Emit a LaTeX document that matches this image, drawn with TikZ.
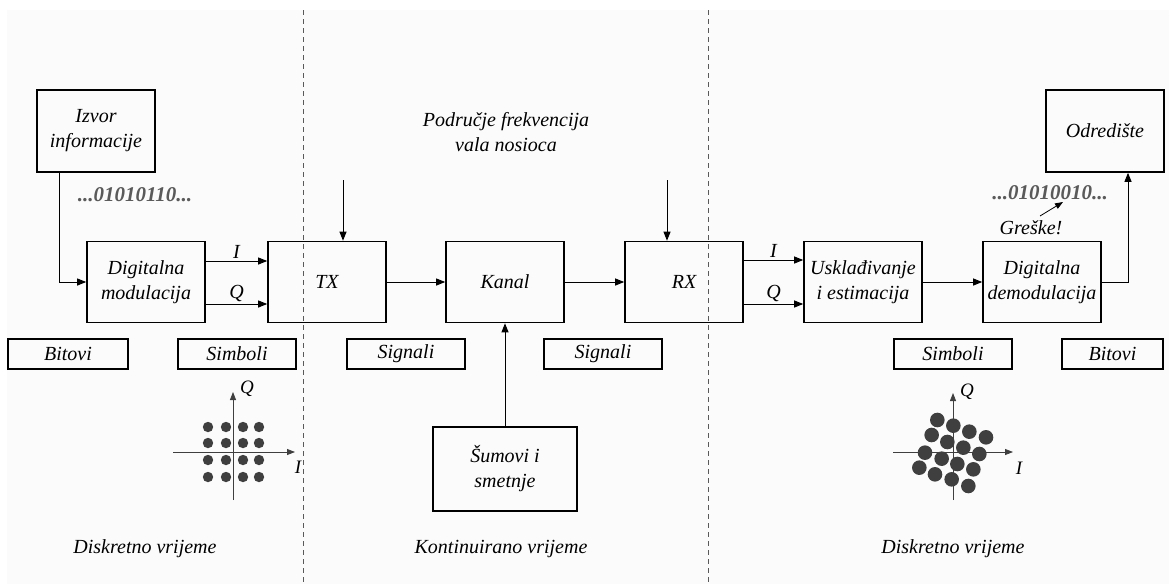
\documentclass[tikz,border=0pt]{standalone}
\usepackage{fontspec}
\setmainfont{Liberation Serif}
\usetikzlibrary{arrows.meta}
\definecolor{bitgray}{HTML}{5A5A5A}
\definecolor{dotgray}{HTML}{3F3F3F}
\definecolor{bg}{HTML}{FBFBFB}
\begin{document}
\begin{tikzpicture}[x=1pt,y=-1pt,
  every node/.style={font=\fontsize{20}{25}\selectfont\itshape},
  blk/.style={draw, line width=1.6pt, minimum width=118pt, minimum height=81pt, align=center, inner sep=0pt},
  tag/.style={draw, line width=1.6pt, minimum width=118pt, minimum height=30pt, inner sep=0pt},
  conn/.style={line width=0.9pt, -{Triangle[length=9pt,width=7pt]}},
  divider/.style={line width=0.6pt, dash pattern=on 5pt off 4pt, gray!70!black},
  bits/.style={text=bitgray, font=\fontsize{21}{25}\selectfont\bfseries\itshape},
  dot/.style={fill=dotgray, draw=none},
  axis/.style={line width=0.8pt, draw=dotgray, -{Triangle[length=8pt,width=6pt]}},
  small/.style={font=\fontsize{19}{22}\selectfont\itshape}
]
\useasboundingbox (0,0) rectangle (1169,584);
\fill[bg] (7,10) rectangle (1169,584);
% dividers
\draw[divider] (303,10) -- (303,584);
\draw[divider] (708,10) -- (708,584);

% main blocks
\node[blk, minimum height=82pt] (izvor) at (96,131) {Izvor\\informacije};
\node[blk] (dmod) at (146,282) {Digitalna\\modulacija};
\node[blk] (tx) at (327,282) {TX};
\node[blk] (kanal) at (505,282) {Kanal};
\node[blk] (rx) at (684,282) {RX};
\node[blk] (usk) at (863,282) {Usklađivanje\\i estimacija};
\node[blk] (ddem) at (1042,282) {Digitalna\\demodulacija};
\node[blk, minimum height=82pt] (odr) at (1105,131) {Odredište};
\node[blk, minimum width=144pt, minimum height=84pt] (sum) at (505,469) {Šumovi i\\smetnje};

% tag boxes
\node[tag, minimum width=120pt] (t1) at (68,354) {Bitovi};
\node[tag] (t2) at (237,354) {Simboli};
\node[tag] (t3) at (406,354) {Signali};
\node[tag] (t4) at (603,354) {Signali};
\node[tag] (t5) at (953,354) {Simboli};
\node[tag, minimum width=101pt] (t6) at (1112.5,354) {Bitovi};

% texts
\node[align=center] (carrier) at (506,132) {Područje frekvencija\\vala nosioca};
\node[bits] (b1) at (135,195) {...01010110...};
\node[bits] (b2) at (1050,193) {...01010010...};
\node (gr) at (1031,228) {Greške!};
\node (d1) at (145,549) {Diskretno vrijeme};
\node (d2) at (501,549) {Kontinuirano vrijeme};
\node (d3) at (953,549) {Diskretno vrijeme};

% connectors
\draw[conn] (izvor.south -| 59,0) |- (dmod.west);
\draw[conn] ([yshift=21pt]dmod.east) -- node[above, inner sep=2pt] (li1) {I} ([yshift=21pt]tx.west);
\draw[conn] ([yshift=-22pt]dmod.east) -- node[above, inner sep=2pt] (lq1) {Q} ([yshift=-22pt]tx.west);
\coordinate (txin) at (343,180);
\draw[conn] (txin) -- (txin |- tx.north);
\draw[conn] (tx) -- (kanal);
\draw[conn] (kanal) -- (rx);
\coordinate (rxin) at (667,180);
\draw[conn] (rxin) -- (rxin |- rx.north);
\draw[conn] ([yshift=22pt]rx.east) -- node[above, inner sep=2pt] (li2) {I} ([yshift=22pt]usk.west);
\draw[conn] ([yshift=-22pt]rx.east) -- node[above, inner sep=2pt] (lq2) {Q} ([yshift=-22pt]usk.west);
\draw[conn] (usk) -- (ddem);
\draw[conn] (ddem.east) -| (1128,0 |- odr.south);
\draw[conn] (sum.north) -- (kanal.south);
\draw[line width=0.8pt, -{Triangle[length=8pt,width=6pt]}] (1040,216) -- (1063,202);

% left constellation
\draw[axis] (173,452) -- (295,452);
\draw[axis] (233,500) -- (233,392);
\node[small] (q1) at (247,389) {Q};
\node[small] (i1) at (298,467) {I};
\foreach \x in {208,226,243,259}
  \foreach \y in {427,443,460,477}
    \fill[dot] (\x,\y) circle (5.2pt);

% right constellation
\draw[axis] (893,452) -- (1013,452);
\draw[axis] (953,500) -- (953,393);
\node[small] (q2) at (967,392) {Q};
\node[small] (i2) at (1019,468) {I};
\foreach \zx/\zy in {172/120,220/137,155/165,268/155,318/172,202/186,250/203,135/218,298/222,185/236,232/252,118/263,280/268,165/283,215/298,265/318}
  \fill[dot] ({880+\zx/3},{380+\zy/3}) circle (7.3pt);
\end{tikzpicture}
\end{document}
